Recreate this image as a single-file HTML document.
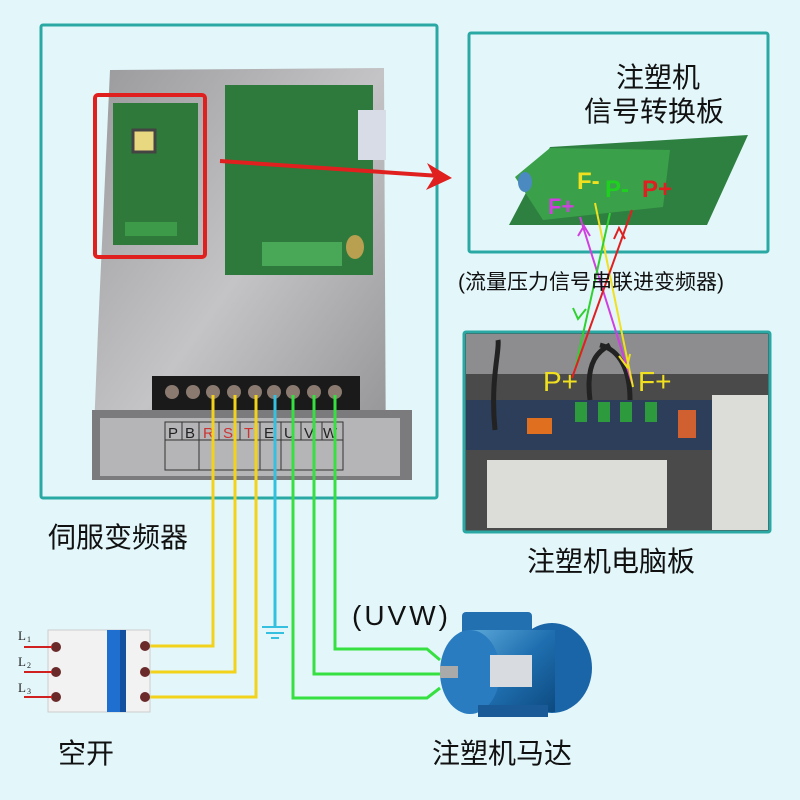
<!DOCTYPE html>
<html><head><meta charset="utf-8"><style>
html,body{margin:0;padding:0}
body{width:800px;height:800px;background:#e3f7fb;position:relative;overflow:hidden;font-family:"Liberation Sans","Noto Sans CJK SC",sans-serif}
.t{position:absolute;color:#111;white-space:nowrap}
</style></head><body>
<svg width="800" height="800" style="position:absolute;left:0;top:0">
<defs>
<linearGradient id="metal" x1="0" y1="0" x2="1" y2="1"><stop offset="0" stop-color="#9a9a9c"/><stop offset=".5" stop-color="#c4c4c6"/><stop offset="1" stop-color="#8f8f92"/></linearGradient>
<linearGradient id="blue" x1="0" y1="0" x2="1" y2="1"><stop offset="0" stop-color="#5aa7d8"/><stop offset=".5" stop-color="#1f6fb0"/><stop offset="1" stop-color="#0d4a80"/></linearGradient>
</defs>
<!-- frames -->
<rect x="41" y="25" width="396" height="473" fill="#e3f7fb" stroke="#2aa8a3" stroke-width="3" rx="2"/>
<rect x="469" y="33" width="299" height="219" fill="#e3f7fb" stroke="#2aa8a3" stroke-width="3" rx="2"/>
<rect x="464" y="332" width="306" height="200" fill="#4a4a4a" stroke="#2aa8a3" stroke-width="3" rx="2"/>
<!-- inverter plate -->
<polygon points="110,70 384,68 386,480 92,480 98,330" fill="url(#metal)"/>
<rect x="92" y="410" width="320" height="70" fill="#7b7b7e"/>
<rect x="100" y="418" width="300" height="58" fill="#b5b5b7"/>
<!-- boards -->
<rect x="113" y="103" width="85" height="142" fill="#2f7a3a"/>
<rect x="133" y="130" width="22" height="22" fill="#e8d880" stroke="#444" stroke-width="3"/>
<rect x="125" y="222" width="52" height="14" fill="#3d9a48"/>
<rect x="225" y="85" width="148" height="190" fill="#2e7a3c"/>
<rect x="262" y="242" width="80" height="24" fill="#48a858"/>
<rect x="358" y="110" width="28" height="50" fill="#d8dce6"/>
<ellipse cx="355" cy="247" rx="9" ry="12" fill="#b8a050"/>
<rect x="95" y="95" width="110" height="162" fill="none" stroke="#e0201e" stroke-width="4" rx="3"/>
<!-- terminal strip -->
<rect x="152" y="376" width="208" height="34" fill="#1a1a1a"/>
<g fill="#8a7a70">
<circle cx="172" cy="392" r="7"/><circle cx="193" cy="392" r="7"/><circle cx="213" cy="392" r="7"/><circle cx="234" cy="392" r="7"/><circle cx="255" cy="392" r="7"/><circle cx="274" cy="392" r="7"/><circle cx="293" cy="392" r="7"/><circle cx="314" cy="392" r="7"/><circle cx="335" cy="392" r="7"/></g>
<g stroke="#333" stroke-width="1" fill="none">
<rect x="165" y="422" width="178" height="48"/><line x1="165" y1="440" x2="343" y2="440"/>
<line x1="182" y1="422" x2="182" y2="440"/><line x1="199" y1="422" x2="199" y2="470"/><line x1="219" y1="422" x2="219" y2="440"/><line x1="240" y1="422" x2="240" y2="440"/><line x1="260" y1="422" x2="260" y2="470"/><line x1="281" y1="422" x2="281" y2="470"/><line x1="301" y1="422" x2="301" y2="440"/><line x1="322" y1="422" x2="322" y2="440"/>
</g>
<g font-family="Liberation Sans" font-size="15" fill="#222">
<text x="168" y="438">P</text><text x="185" y="438">B</text><text x="203" y="438" fill="#c33">R</text><text x="223" y="438" fill="#c33">S</text><text x="244" y="438" fill="#c33">T</text><text x="264" y="438">E</text><text x="284" y="438">U</text><text x="304" y="438">V</text><text x="323" y="438">W</text></g>
<!-- red arrow -->
<line x1="220" y1="161" x2="440" y2="176" stroke="#e0201e" stroke-width="4"/>
<polygon points="452,178 427,163 434,177 426,190" fill="#e0201e"/>
<!-- signal board -->
<polygon points="509,225 707,225 748,135 550,147" fill="#2e8040"/>
<polygon points="515,177 550,148 670,150 663,207 543,220" fill="#3aa04a"/>
<ellipse cx="525" cy="182" rx="7" ry="10" fill="#4a8ac0"/>
<!-- bottom photo details -->
<rect x="466" y="334" width="302" height="40" fill="#8d8d8f"/>
<rect x="466" y="400" width="302" height="50" fill="#2c3e5a"/>
<rect x="487" y="460" width="180" height="68" fill="#dcdcd8"/>
<rect x="712" y="395" width="56" height="135" fill="#dcdcd8"/>
<rect x="527" y="418" width="25" height="16" fill="#e07020"/>
<rect x="678" y="410" width="18" height="28" fill="#d06030"/>
<g fill="#2d9a3e"><rect x="575" y="402" width="12" height="20"/><rect x="598" y="402" width="12" height="20"/><rect x="620" y="402" width="12" height="20"/><rect x="645" y="402" width="12" height="20"/></g>
<g stroke="#222" fill="none" stroke-width="5"><path d="M590 400 C585 360 600 350 610 345"/><path d="M630 400 C630 370 620 350 600 345"/><path d="M495 430 C490 380 500 350 498 340"/></g>
<!-- signal wires -->
<g stroke-width="2" fill="none">
<line x1="580" y1="217" x2="632" y2="383" stroke="#d040e0"/>
<line x1="595" y1="203" x2="633" y2="387" stroke="#f0e020"/>
<line x1="610" y1="213" x2="575" y2="370" stroke="#30d030"/>
<line x1="632" y1="210" x2="572" y2="378" stroke="#e02020"/>
</g>
<g fill="none" stroke-width="2">
<polyline points="578,236 584,226 590,236" stroke="#d040e0"/>
<polyline points="619,356 627,367 630,354" stroke="#f0e020"/>
<polyline points="573,308 578,319 586,309" stroke="#30d030"/>
<polyline points="614,239 619,228 625,239" stroke="#e02020"/>
</g>
<!-- power wires -->
<g fill="none" stroke-width="3">
<polyline points="213,395 213,646 150,646" stroke="#f2d21a"/>
<polyline points="235,395 235,672 150,672" stroke="#f2d21a"/>
<polyline points="256,395 256,697 150,697" stroke="#f2d21a"/>
<polyline points="275,395 275,626" stroke="#35c0e0"/>
<polyline points="335,395 335,649 427,649 440,660" stroke="#35e040"/>
<polyline points="314,395 314,674 440,674" stroke="#35e040"/>
<polyline points="293,395 293,698 427,698 440,688" stroke="#35e040"/>
</g>
<g stroke="#35c0e0" stroke-width="2"><line x1="262" y1="627" x2="288" y2="627"/><line x1="266" y1="633" x2="284" y2="633"/><line x1="271" y1="638" x2="279" y2="638"/></g>
<!-- breaker -->
<rect x="48" y="630" width="102" height="82" fill="#f2f2f2" stroke="#ccc"/>
<rect x="107" y="630" width="14" height="82" fill="#1f6fd0"/>
<rect x="120" y="630" width="6" height="82" fill="#1450a0"/>
<g fill="#6a2a2a"><circle cx="56" cy="647" r="5"/><circle cx="56" cy="672" r="5"/><circle cx="56" cy="697" r="5"/><circle cx="145" cy="646" r="5"/><circle cx="145" cy="672" r="5"/><circle cx="145" cy="697" r="5"/></g>
<g stroke="#d02020" stroke-width="2"><line x1="24" y1="647" x2="52" y2="647"/><line x1="24" y1="672" x2="52" y2="672"/><line x1="24" y1="697" x2="52" y2="697"/></g>
<g font-family="Liberation Serif" font-size="13" fill="#222"><text x="18" y="640">L</text><text x="27" y="642" font-size="8">1</text><text x="18" y="666">L</text><text x="27" y="668" font-size="8">2</text><text x="18" y="692">L</text><text x="27" y="694" font-size="8">3</text></g>
<!-- motor -->
<rect x="462" y="612" width="70" height="30" fill="#2370b0" rx="4"/>
<ellipse cx="552" cy="668" rx="40" ry="45" fill="#1a65a8"/>
<rect x="470" y="630" width="85" height="82" fill="url(#blue)"/>
<ellipse cx="470" cy="672" rx="30" ry="42" fill="#2a7cc0"/>
<rect x="440" y="666" width="18" height="12" fill="#aaa"/>
<rect x="490" y="655" width="42" height="32" fill="#d8dce0"/>
<rect x="478" y="705" width="70" height="12" fill="#1a5a96"/>
</svg>
<div class="t" style="left:48px;top:516px;font-size:28px">伺服变频器</div>
<div class="t" style="left:58px;top:732px;font-size:28px">空开</div>
<div class="t" style="left:432px;top:732px;font-size:28px">注塑机马达</div>
<div class="t" style="left:352px;top:600px;font-size:28px;letter-spacing:3px">(UVW)</div>
<div class="t" style="left:527px;top:540px;font-size:28px">注塑机电脑板</div>
<div class="t" style="left:616px;top:56px;font-size:28px">注塑机</div>
<div class="t" style="left:584px;top:90px;font-size:28px">信号转换板</div>
<div class="t" style="left:458px;top:266px;font-size:21px">(流量压力信号串联进变频器)</div>
<div class="t" style="left:577px;top:168px;font-size:24px;color:#f0e020;font-weight:bold">F-</div>
<div class="t" style="left:605px;top:176px;font-size:24px;color:#20d020;font-weight:bold">P-</div>
<div class="t" style="left:642px;top:176px;font-size:24px;color:#e02020;font-weight:bold">P+</div>
<div class="t" style="left:548px;top:194px;font-size:22px;color:#d040e0;font-weight:bold">F+</div>
<div class="t" style="left:543px;top:366px;font-size:28px;color:#f0e020">P+</div>
<div class="t" style="left:638px;top:366px;font-size:28px;color:#f0e020">F+</div>
</body></html>
